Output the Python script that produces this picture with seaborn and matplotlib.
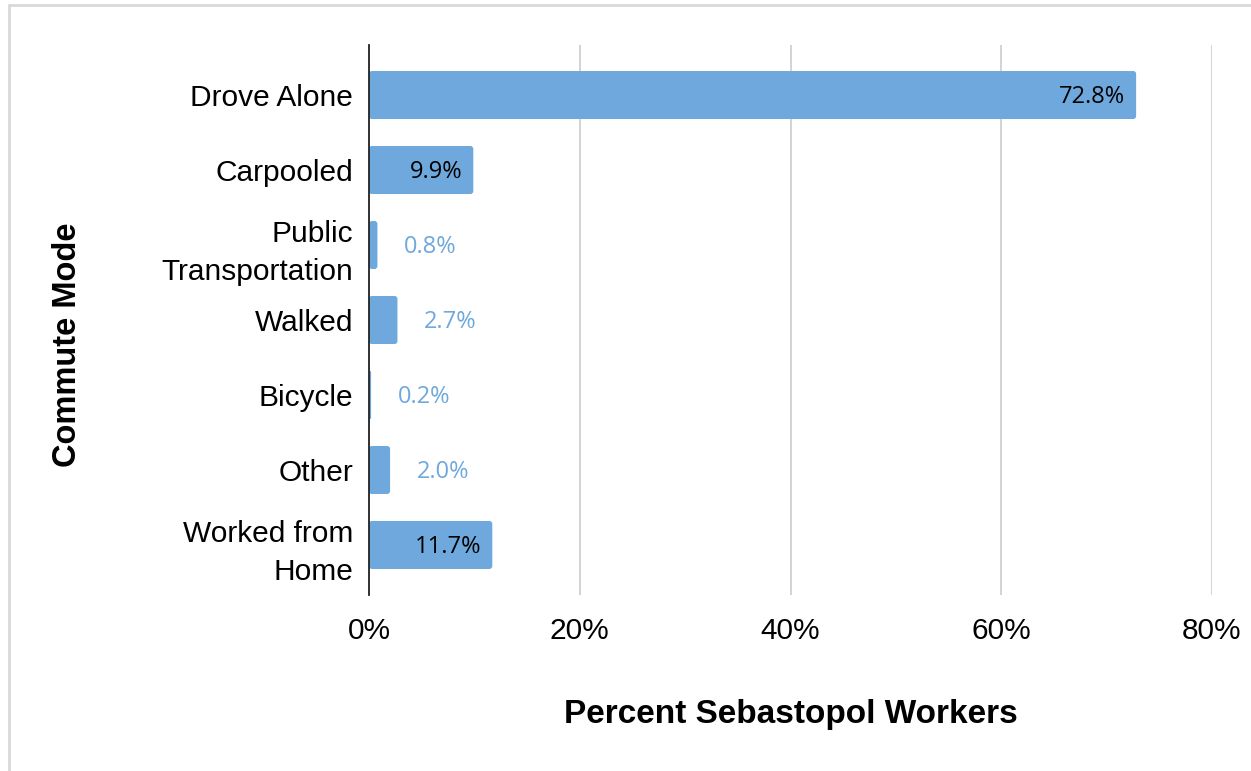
import pandas as pd
import seaborn as sns
import matplotlib.pyplot as plt
from matplotlib.lines import Line2D
from matplotlib.patches import FancyBboxPatch

modes = ["Drove Alone", "Carpooled", "Public\nTransportation", "Walked",
         "Bicycle", "Other", "Worked from\nHome"]
pct = [72.8, 9.9, 0.8, 2.7, 0.2, 2.0, 11.7]

df = pd.DataFrame({"mode": modes, "pct": pct})

sns.set_style("white")
plt.rcParams["font.family"] = ["Liberation Sans", "DejaVu Sans"]

bar_col = "#6fa8dc"
fig = plt.figure(figsize=(12.51, 7.71), dpi=100)
ax = fig.add_axes([369 / 1251, 1 - 595 / 771, (1212 - 369) / 1251, (595 - 45) / 771])

sns.barplot(data=df, x="pct", y="mode", color=bar_col, saturation=1,
            width=0.64, ax=ax, zorder=2)

# swap plain rectangles for slightly rounded ones
for p in list(ax.patches):
    x, y, w, h = p.get_x(), p.get_y(), p.get_width(), p.get_height()
    r = min(0.28, w / 2)
    ax.add_patch(FancyBboxPatch((x, y), w, h, boxstyle=f"round,pad=0,rounding_size={r}",
                                mutation_aspect=0.14, facecolor=bar_col,
                                edgecolor="none", zorder=2))
    p.remove()

ax.set_xlim(0, 80)
ax.set_ylim(6.667, -0.667)
ax.set_xticks([0, 20, 40, 60, 80])
ax.set_xticklabels([f"{t}%" for t in [0, 20, 40, 60, 80]])
ax.tick_params(axis="y", labelsize=21.5, length=0, pad=11.5, labelcolor="black")
ax.tick_params(axis="x", labelsize=21.5, length=0, pad=16, labelcolor="black")
for lab in ax.get_yticklabels():
    lab.set_linespacing(1.45)
ax.grid(axis="x", color="#cccccc", linewidth=1.2, zorder=0)
for s in ["top", "right", "bottom"]:
    ax.spines[s].set_visible(False)
ax.spines["left"].set_color("#222222")
ax.spines["left"].set_linewidth(1.3)
ax.spines["left"].set_zorder(3)

for i, v in enumerate(pct):
    if v > 5:
        ax.text(v - 1.05, i + 0.03, f"{v:.1f}%", ha="right", va="center", fontsize=17,
                color="black", family=["Open Sans", "DejaVu Sans"], zorder=4)
    else:
        ax.text(v + 2.5, i + 0.03, f"{v:.1f}%", ha="left", va="center", fontsize=17,
                color=bar_col, family=["Open Sans", "DejaVu Sans"], zorder=4)

ax.set_xlabel("Percent Sebastopol Workers", fontsize=24, fontweight="bold",
              color="black")
ax.xaxis.label.set_va("center")
ax.xaxis.set_label_coords(0.5, -(715 - 595) / 550)
ax.set_ylabel("Commute Mode", fontsize=23.5, fontweight="bold", color="black")
ax.yaxis.label.set_va("center")
ax.yaxis.set_label_coords(-(369 - 68) / 843, 0.455)

# light frame at top and left of the figure
fig.add_artist(Line2D([8.5 / 1251, 8.5 / 1251], [0, 1 - 5 / 771], color="#d9d9d9",
                      linewidth=2, transform=fig.transFigure))
fig.add_artist(Line2D([8.5 / 1251, 1], [1 - 5 / 771, 1 - 5 / 771], color="#d9d9d9",
                      linewidth=2, transform=fig.transFigure))

fig.savefig("out.png", dpi=100)
